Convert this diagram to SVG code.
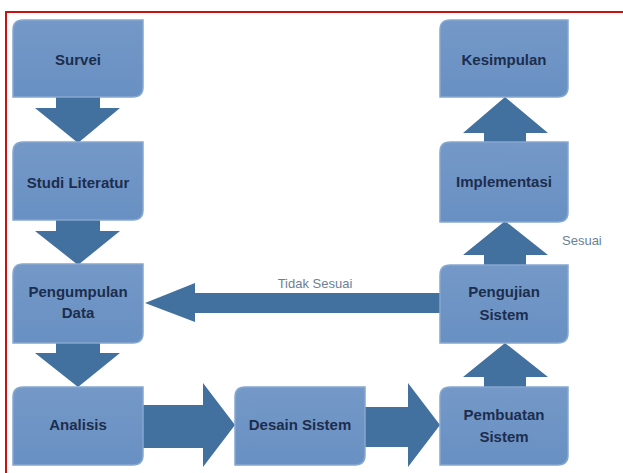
<svg xmlns="http://www.w3.org/2000/svg" width="623" height="473" viewBox="0 0 623 473">
<defs>
<linearGradient id="g" x1="0" y1="0" x2="0" y2="1">
<stop offset="0" stop-color="#7499c8"/>
<stop offset="1" stop-color="#6890c2"/>
</linearGradient>
<style>
.box{fill:url(#g);stroke:#86a7d0;stroke-width:1.5}
.arr{fill:#43719f}
.lbl{font-family:"Liberation Sans",Arial,sans-serif;font-weight:bold;font-size:15px;fill:#1d2d4d;text-anchor:middle}
.note{font-family:"Liberation Sans",Arial,sans-serif;font-size:13px;fill:#6d7f96}
</style>
</defs>
<rect width="623" height="473" fill="#ffffff"/>
<path d="M6 473 V12 H623" fill="none" stroke="#cc1111" stroke-width="2"/>
<g id="connectors">
<path class="arr" d="M56 97 H100 V108 H120 L78 143 L35 108 H56 Z"/>
<path class="arr" d="M56 220 H100 V231 H120 L78 265 L35 231 H56 Z"/>
<path class="arr" d="M56 343 H100 V353 H120 L78 387 L35 353 H56 Z"/>
<path class="arr" d="M143 405 H203 V383 L235 425 L203 467 V448 H143 Z"/>
<path class="arr" d="M365 407 H408 V383 L440 425 L408 467 V447 H365 Z"/>
<path class="arr" d="M484 387 V377 H463 L505 343 L548 377 H526 V387 Z"/>
<path class="arr" d="M484 265 V255 H463 L505 221 L548 255 H526 V265 Z"/>
<path class="arr" d="M484 142 V133 H463 L505 97 L548 133 H526 V142 Z"/>
<path class="arr" d="M440 293 H195 V283 L145 303 L195 322 V313 H440 Z"/>
<text class="note" x="315" y="288" text-anchor="middle">Tidak Sesuai</text>
<text class="note" x="562" y="245">Sesuai</text>
</g>
<g id="survei">
<path class="box" d="M23 20 H143 V87 Q143 97 133 97 H13 V30 Q13 20 23 20 Z"/>
<text class="lbl" x="78" y="65">Survei</text>
</g>
<g id="studi-literatur">
<path class="box" d="M23 142 H143 V210 Q143 220 133 220 H13 V152 Q13 142 23 142 Z"/>
<text class="lbl" x="78" y="188">Studi Literatur</text>
</g>
<g id="pengumpulan-data">
<path class="box" d="M23 264 H143 V333 Q143 343 133 343 H13 V274 Q13 264 23 264 Z"/>
<text class="lbl" x="78" y="297">Pengumpulan</text>
<text class="lbl" x="78" y="318">Data</text>
</g>
<g id="analisis">
<path class="box" d="M23 387 H143 V455 Q143 465 133 465 H13 V397 Q13 387 23 387 Z"/>
<text class="lbl" x="78" y="430">Analisis</text>
</g>
<g id="desain-sistem">
<path class="box" d="M245 387 H365 V455 Q365 465 355 465 H235 V397 Q235 387 245 387 Z"/>
<text class="lbl" x="300" y="430">Desain Sistem</text>
</g>
<g id="pembuatan-sistem">
<path class="box" d="M450 387 H568 V455 Q568 465 558 465 H440 V397 Q440 387 450 387 Z"/>
<text class="lbl" x="504" y="420">Pembuatan</text>
<text class="lbl" x="504" y="442">Sistem</text>
</g>
<g id="pengujian-sistem">
<path class="box" d="M450 265 H568 V333 Q568 343 558 343 H440 V275 Q440 265 450 265 Z"/>
<text class="lbl" x="504" y="297">Pengujian</text>
<text class="lbl" x="504" y="320">Sistem</text>
</g>
<g id="implementasi">
<path class="box" d="M450 142 H568 V212 Q568 222 558 222 H440 V152 Q440 142 450 142 Z"/>
<text class="lbl" x="504" y="187">Implementasi</text>
</g>
<g id="kesimpulan">
<path class="box" d="M450 20 H568 V87 Q568 97 558 97 H440 V30 Q440 20 450 20 Z"/>
<text class="lbl" x="504" y="65">Kesimpulan</text>
</g>
</svg>
